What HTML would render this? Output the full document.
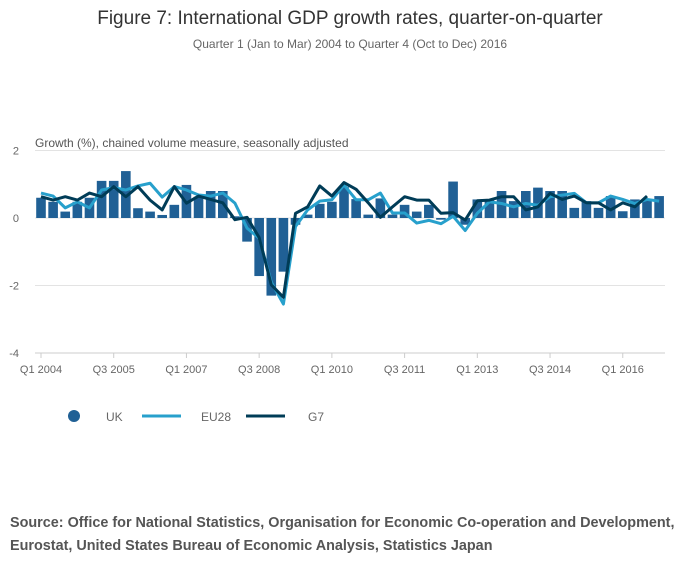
<!DOCTYPE html>
<html><head><meta charset="utf-8"><style>
body{margin:0;background:#fff;font-family:"Liberation Sans",sans-serif;}
svg text{font-family:"Liberation Sans",sans-serif;}
</style></head><body>
<svg id="chart" width="700" height="574" xmlns="http://www.w3.org/2000/svg">
<text x="350" y="24" text-anchor="middle" font-size="19" fill="#333">Figure 7: International GDP growth rates, quarter-on-quarter</text>
<text x="350" y="48" text-anchor="middle" font-size="12" fill="#666">Quarter 1 (Jan to Mar) 2004 to Quarter 4 (Oct to Dec) 2016</text>
<text x="35" y="147" font-size="12" fill="#555">Growth (%), chained volume measure, seasonally adjusted</text>
<g id="grid"></g><g id="bars"></g><g id="lines"></g><g id="xaxis"></g>
<g>
<circle cx="74" cy="416" r="6" fill="#206095"/>
<text x="106" y="421" font-size="12" fill="#666">UK</text>
<line x1="142" y1="416" x2="181" y2="416" stroke="#27a0cc" stroke-width="3"/>
<text x="201" y="421" font-size="12" fill="#666">EU28</text>
<line x1="246" y1="416" x2="285" y2="416" stroke="#003c57" stroke-width="3"/>
<text x="308" y="421" font-size="12" fill="#666">G7</text>
</g>
<text x="10" y="527" font-size="14.4" font-weight="bold" fill="#555">Source: Office for National Statistics, Organisation for Economic Co-operation and Development,</text>
<text x="10" y="550" font-size="14.4" font-weight="bold" fill="#555">Eurostat, United States Bureau of Economic Analysis, Statistics Japan</text>
</svg>
<script>
const uk=[0.6,0.48,0.19,0.48,0.6,1.1,1.1,1.39,0.29,0.19,0.09,0.39,0.98,0.63,0.8,0.8,0.05,-0.7,-1.72,-2.3,-1.59,-0.2,0.1,0.42,0.48,0.93,0.56,0.1,0.58,0.1,0.39,0.19,0.39,-0.05,1.08,-0.2,0.55,0.55,0.8,0.5,0.8,0.9,0.8,0.8,0.3,0.5,0.3,0.65,0.2,0.55,0.55,0.65];
const eu28=[0.74,0.65,0.3,0.48,0.3,0.83,0.9,0.83,0.95,1.03,0.62,0.93,0.83,0.68,0.65,0.74,0.44,-0.3,-0.6,-1.9,-2.55,-0.25,0.24,0.5,0.54,0.98,0.54,0.54,0.74,0.15,0.15,-0.15,-0.07,-0.17,0.05,-0.37,0.14,0.48,0.43,0.33,0.43,0.38,0.63,0.68,0.73,0.45,0.45,0.65,0.55,0.43,0.55,0.5];
const g7=[0.63,0.53,0.63,0.53,0.74,0.63,0.93,0.63,0.93,0.53,0.24,0.93,0.44,0.65,0.55,0.45,-0.05,0.02,-0.58,-1.98,-2.35,0.14,0.33,0.95,0.65,1.05,0.85,0.45,0.02,0.33,0.63,0.53,0.53,0.14,0.16,-0.06,0.51,0.53,0.63,0.63,0.24,0.33,0.73,0.55,0.65,0.45,0.45,0.24,0.45,0.33,0.65];
const yTicks=[2,0,-2,-4];
const xTickLabels=["Q1 2004","Q3 2005","Q1 2007","Q3 2008","Q1 2010","Q3 2011","Q1 2013","Q3 2014","Q1 2016"];
const xTickIdx=[0,6,12,18,24,30,36,42,48];
const NS="http://www.w3.org/2000/svg";
const x=i=>41+i*12.12;
const y=v=>218-v*33.75;
function mk(tag,attrs,parent){const e=document.createElementNS(NS,tag);for(const k in attrs)e.setAttribute(k,attrs[k]);parent.appendChild(e);return e;}
const grid=document.getElementById('grid'),bars=document.getElementById('bars'),lines=document.getElementById('lines'),xa=document.getElementById('xaxis');
yTicks.forEach(t=>{
 const l=mk('line',{x1:35,x2:665,y1:y(t),y2:y(t),stroke:t===-4?'#ccc':'#e3e3e3','stroke-width':1},grid);
 
 
 const tx=mk('text',{x:19,y:y(t)+4,'text-anchor':'end','font-size':11,fill:'#666'},grid);
 tx.textContent=t;
 
 
});
uk.forEach((v,i)=>{
 const r=mk('rect',{x:x(i)-4.8,width:9.6,y:Math.min(y(v),y(0)),height:Math.abs(y(v)-y(0)),fill:'#206095'},bars);
 
 
});
[[eu28,'#27a0cc','line-eu28'],[g7,'#003c57','line-g7']].forEach(([d,c,n])=>{
 const p=mk('polyline',{points:d.map((v,i)=>x(i)+','+y(v)).join(' '),fill:'none',stroke:c,'stroke-width':3,'stroke-linejoin':'round'},lines);
 
 
});
xTickIdx.forEach((idx,k)=>{
 const t=mk('line',{x1:x(idx),x2:x(idx),y1:353,y2:358,stroke:'#ccc'},xa);
 
 
 const tx=mk('text',{x:x(idx),y:373,'text-anchor':'middle','font-size':11,fill:'#666'},xa);
 tx.textContent=xTickLabels[k];
 
 
});
</script>
</body></html>
